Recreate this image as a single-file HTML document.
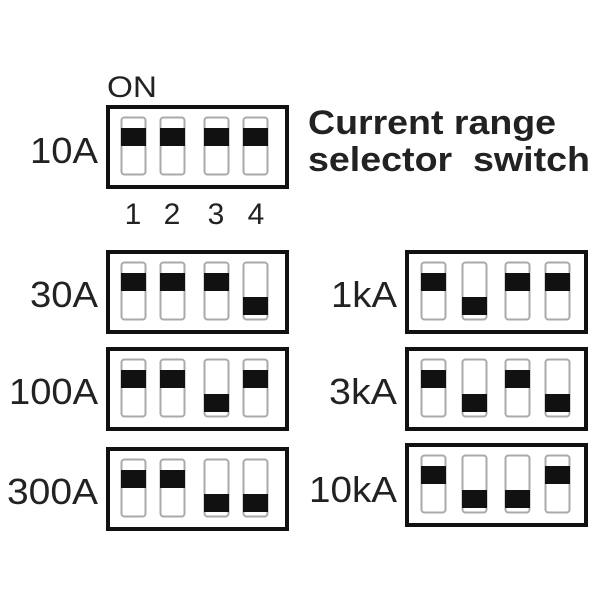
<!DOCTYPE html>
<html><head><style>body{margin:0;background:#fff}</style></head><body>
<svg width="600" height="600" viewBox="0 0 600 600" xmlns="http://www.w3.org/2000/svg" font-family="Liberation Sans, sans-serif">
<defs>
<g id="sw"><rect x="0.5" y="0.5" width="24" height="57" rx="3" fill="#fff" stroke="#aaa" stroke-width="2"/></g>
<g id="up"><use href="#sw"/><rect x="0" y="11" width="25" height="18" fill="#111"/></g>
<g id="dn"><use href="#sw"/><rect x="0" y="35" width="25" height="18" fill="#111"/></g>
</defs>
<g fill="#fff" stroke="#111" stroke-width="4">
<rect x="108" y="107" width="179" height="80"/>
<rect x="108" y="252" width="179" height="80"/>
<rect x="108" y="349" width="179" height="80"/>
<rect x="108" y="449" width="179" height="80"/>
<rect x="407" y="252" width="179" height="80"/>
<rect x="407" y="349" width="179" height="80"/>
<rect x="407" y="445" width="179" height="80"/>
</g>
<g transform="translate(121,117)"><use href="#up"/><use href="#up" x="39"/><use href="#up" x="83"/><use href="#up" x="122"/></g>
<g transform="translate(121,262)"><use href="#up"/><use href="#up" x="39"/><use href="#up" x="83"/><use href="#dn" x="122"/></g>
<g transform="translate(121,359)"><use href="#up"/><use href="#up" x="39"/><use href="#dn" x="83"/><use href="#up" x="122"/></g>
<g transform="translate(121,459)"><use href="#up"/><use href="#up" x="39"/><use href="#dn" x="83"/><use href="#dn" x="122"/></g>
<g transform="translate(421,262)"><use href="#up"/><use href="#dn" x="41"/><use href="#up" x="84"/><use href="#up" x="124"/></g>
<g transform="translate(421,359)"><use href="#up"/><use href="#dn" x="41"/><use href="#up" x="84"/><use href="#dn" x="124"/></g>
<g transform="translate(421,455)"><use href="#up"/><use href="#dn" x="41"/><use href="#dn" x="84"/><use href="#up" x="124"/></g>
<g font-size="36" fill="#222" lengthAdjust="spacingAndGlyphs">
<text x="30" y="163" textLength="68" lengthAdjust="spacingAndGlyphs">10A</text>
<text x="30" y="307" textLength="68" lengthAdjust="spacingAndGlyphs">30A</text>
<text x="9" y="404" textLength="89" lengthAdjust="spacingAndGlyphs">100A</text>
<text x="7" y="504" textLength="91" lengthAdjust="spacingAndGlyphs">300A</text>
<text x="331" y="307" textLength="66" lengthAdjust="spacingAndGlyphs">1kA</text>
<text x="329" y="404" textLength="68" lengthAdjust="spacingAndGlyphs">3kA</text>
<text x="309" y="502" textLength="88" lengthAdjust="spacingAndGlyphs">10kA</text>
</g>
<text x="107" y="97" font-size="30" fill="#222" textLength="50" lengthAdjust="spacingAndGlyphs">ON</text>
<g font-size="30" fill="#222" text-anchor="middle">
<text x="133" y="224">1</text><text x="172" y="224">2</text><text x="216" y="224">3</text><text x="256" y="224">4</text>
</g>
<g font-size="34" font-weight="bold" fill="#222">
<text x="308" y="134" textLength="248" lengthAdjust="spacingAndGlyphs">Current range</text>
<text x="308" y="171" xml:space="preserve" textLength="282" lengthAdjust="spacingAndGlyphs">selector  switch</text>
</g>
</svg>
</body></html>
